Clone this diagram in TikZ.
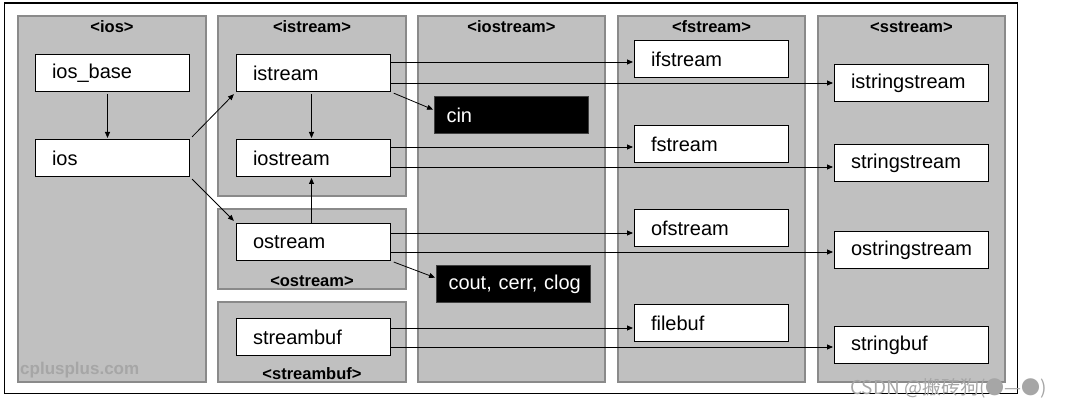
\documentclass[tikz,border=0pt]{standalone}
\usepackage{fontspec}
\setmainfont{Liberation Sans}
\newfontfamily\cjk{Noto Sans CJK SC}
\usetikzlibrary{arrows.meta,calc}
\definecolor{panelfill}{HTML}{C0C0C0}
\definecolor{panelline}{HTML}{8A8A8A}
\definecolor{wmark}{HTML}{A6A6A6}
\begin{document}
\begin{tikzpicture}[x=1pt,y=-1pt,
 panel/.style={draw=panelline, fill=panelfill, line width=2pt, anchor=north west, inner sep=0pt},
 cls/.style={draw=black, fill=white, line width=1pt, anchor=north west, minimum height=37pt, inner xsep=16.5pt, inner ysep=0pt, text width=121pt, align=left, font=\fontsize{20}{22}\selectfont},
 obj/.style={cls, fill=black, draw=darkgray, text=white, inner xsep=12pt, text width=130pt},
 ttl/.style={font=\bfseries\fontsize{16.5}{18}\selectfont, inner sep=0pt},
 arr/.style={draw=black, line width=0.8pt, -{Triangle[length=6pt,width=5pt]}}
]
\useasboundingbox (0,0) rectangle (1069,409);
\node[draw=black, line width=1.2pt, anchor=north west, minimum width=1013pt, minimum height=390pt, inner sep=0pt] (frame) at (4,2.5) {};
% panels
\node[panel, minimum width=188pt, minimum height=366pt] (pios) at (17,15) {};
\node[panel, minimum width=188pt, minimum height=180pt] (pistream) at (217,15) {};
\node[panel, minimum width=188pt, minimum height=80pt] (postream) at (217,208) {};
\node[panel, minimum width=188pt, minimum height=80pt] (pstreambuf) at (217,301) {};
\node[panel, minimum width=187pt, minimum height=366pt] (piostream) at (417,15) {};
\node[panel, minimum width=187pt, minimum height=366pt] (pfstream) at (617,15) {};
\node[panel, minimum width=187pt, minimum height=366pt] (psstream) at (817,15) {};
% titles
\node[ttl] (tios) at ($(pios.north)+(0,12)$) {<ios>};
\node[ttl] (tistream) at ($(pistream.north)+(0,12)$) {<istream>};
\node[ttl] (tiostream) at ($(piostream.north)+(0,12)$) {<iostream>};
\node[ttl] (tfstream) at ($(pfstream.north)+(0,12)$) {<fstream>};
\node[ttl] (tsstream) at ($(psstream.north)+(0,12)$) {<sstream>};
\node[ttl] (tostream) at ($(postream.south)+(0,-9)$) {<ostream>};
\node[ttl] (tstreambuf) at ($(pstreambuf.south)+(0,-9)$) {<streambuf>};
% boxes
\node[cls] (iosbase) at (35,54) {ios\_base};
\node[cls] (ios) at (35,139) {ios};
\node[cls] (istream) at (236,54) {istream};
\node[cls] (iostream) at (236,139) {iostream};
\node[cls] (ostream) at (236,223) {ostream};
\node[cls] (streambuf) at (236,318) {streambuf};
\node[obj] (cin) at (434,96) {cin};
\node[obj] (cout) at (436,265) {\mbox{cout, cerr, clog}};
\node[cls] (ifstream) at (634,40) {ifstream};
\node[cls] (fstream) at (634,125) {fstream};
\node[cls] (ofstream) at (634,209) {ofstream};
\node[cls] (filebuf) at (634,304) {filebuf};
\node[cls] (istringstream) at (834,64) {istringstream};
\node[cls] (stringstream) at (834,144) {stringstream};
\node[cls] (ostringstream) at (834,231) {ostringstream};
\node[cls] (stringbuf) at (834,326) {stringbuf};
% vertical arrows
\draw[arr, shorten <=2pt, shorten >=1pt] ([xshift=-5pt]iosbase.south) -- ([xshift=-5pt]ios.north);
\draw[arr, shorten <=2pt, shorten >=1pt] ([xshift=-2pt]istream.south) -- ([xshift=-2pt]iostream.north);
\draw[arr, shorten >=1pt] ([xshift=-2pt]ostream.north) -- ([xshift=-2pt]iostream.south);
% diagonal arrows
\draw[arr, shorten <=3pt, shorten >=3pt] (ios.north east) -- (istream.south west);
\draw[arr, shorten <=3pt, shorten >=3pt] (ios.south east) -- (ostream.north west);
\draw[arr, shorten <=3pt, shorten >=1pt] (istream.south east) -- ([yshift=5pt]cin.west);
\draw[arr, shorten <=3pt, shorten >=1pt] (ostream.south east) -- ([yshift=6pt]cout.west);
% horizontal arrows
\coordinate (a1) at ([yshift=-8pt]istream.north east);
\coordinate (a2) at ([yshift=-29pt]istream.north east);
\coordinate (b1) at ([yshift=-8pt]iostream.north east);
\coordinate (b2) at ([yshift=-28pt]iostream.north east);
\coordinate (c1) at ([yshift=-10pt]ostream.north east);
\coordinate (c2) at ([yshift=-29pt]ostream.north east);
\coordinate (d1) at ([yshift=-10pt]streambuf.north east);
\coordinate (d2) at ([yshift=-29pt]streambuf.north east);
\draw[arr, shorten >=1pt] (a1) -- (a1 -| ifstream.west);
\draw[arr, shorten >=1pt] (a2) -- (a2 -| istringstream.west);
\draw[arr, shorten >=1pt] (b1) -- (b1 -| fstream.west);
\draw[arr, shorten >=1pt] (b2) -- (b2 -| stringstream.west);
\draw[arr, shorten >=1pt] (c1) -- (c1 -| ofstream.west);
\draw[arr, shorten >=1pt] (c2) -- (c2 -| ostringstream.west);
\draw[arr, shorten >=1pt] (d1) -- (d1 -| filebuf.west);
\draw[arr, shorten >=1pt] (d2) -- (d2 -| stringbuf.west);
% texts
\node[anchor=west, inner sep=0pt, text=gray!70, font=\bfseries\fontsize{17}{19}\selectfont] (cpp) at (20,370) {cplusplus.com};
\node[anchor=west, inner sep=0pt, text=wmark, font=\cjk\fontsize{19}{21}\selectfont] (wm) at (850,388) {CSDN @搬砖狗(●—●)};
\end{tikzpicture}
\end{document}
